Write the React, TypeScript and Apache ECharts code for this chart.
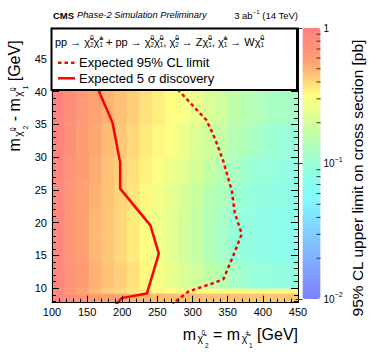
import React, { useEffect, useRef } from 'react';
import * as echarts from 'echarts';

const FONT = '"Liberation Sans", Arial, Helvetica, sans-serif';

// chi2/chi1 mass bins (GeV) and mass-splitting bands (GeV)
const massEdges = [99, 117, 135, 153, 171, 189, 207, 225, 243, 261, 279, 297, 315, 333, 351, 369, 387, 405, 423, 441, 459];
const dmEdges = [7.8, 9.25, 10, 14, 18, 22, 26, 30, 35, 50];

// 95% CL upper limit on cross section [pb], one array per mass-splitting band
const limitDm8 = [0.95, 0.8, 0.7, 0.62, 0.57, 0.53, 0.5, 0.49, 0.48, 0.47, 0.47, 0.47, 0.46, 0.46, 0.46, 0.46, 0.45, 0.45, 0.45, 0.45];
const limitDm9 = [0.85, 0.68, 0.56, 0.48, 0.43, 0.4, 0.37, 0.35, 0.33, 0.32, 0.31, 0.3, 0.3, 0.29, 0.29, 0.29, 0.28, 0.28, 0.28, 0.28];
const limitDm10 = [0.9, 0.72, 0.6, 0.51, 0.46, 0.42, 0.38, 0.33, 0.29, 0.25, 0.22, 0.19, 0.16, 0.14, 0.12, 0.105, 0.095, 0.09, 0.088, 0.09];
const limitDm14 = [0.88, 0.7, 0.57, 0.49, 0.44, 0.4, 0.36, 0.32, 0.27, 0.23, 0.2, 0.17, 0.14, 0.12, 0.1, 0.09, 0.083, 0.078, 0.076, 0.08];
const limitDm18 = [0.88, 0.7, 0.57, 0.49, 0.44, 0.4, 0.36, 0.31, 0.27, 0.23, 0.2, 0.17, 0.14, 0.12, 0.1, 0.09, 0.082, 0.077, 0.075, 0.078];
const limitDm22 = [0.88, 0.7, 0.58, 0.5, 0.45, 0.41, 0.37, 0.33, 0.28, 0.24, 0.21, 0.18, 0.15, 0.13, 0.11, 0.098, 0.09, 0.084, 0.08, 0.082];
const limitDm26 = [0.9, 0.72, 0.6, 0.52, 0.46, 0.42, 0.38, 0.34, 0.3, 0.26, 0.23, 0.2, 0.17, 0.145, 0.125, 0.11, 0.1, 0.092, 0.088, 0.088];
const limitDm30 = [0.92, 0.75, 0.62, 0.54, 0.48, 0.44, 0.4, 0.36, 0.33, 0.3, 0.26, 0.22, 0.19, 0.165, 0.145, 0.13, 0.115, 0.105, 0.1, 0.1];
const limitDm35 = [0.95, 0.78, 0.65, 0.56, 0.5, 0.46, 0.42, 0.38, 0.35, 0.32, 0.29, 0.25, 0.21, 0.19, 0.16, 0.145, 0.135, 0.12, 0.12, 0.12];
const limitBands = [limitDm8, limitDm9, limitDm10, limitDm14, limitDm18, limitDm22, limitDm26, limitDm30, limitDm35];

// contours [m(chi2) GeV, dm GeV]
const discovery5sigma = [[163, 41], [167, 40], [186, 35.3], [197, 29.2], [197, 25.2], [240, 19.6], [252, 15.3], [235, 9.2], [199, 8.5], [190, 7.4]];
const expected95 = [[272, 41], [280, 40.2], [320, 35.6], [332, 32.8], [344, 29.3], [356, 24.8], [360, 21.5], [370, 18.3], [358, 15], [344, 11.4], [330, 10.8], [313, 10.2], [294, 9.5], [276, 8], [272, 7.4]];

const colorbarMinor = [0.02, 0.03, 0.04, 0.05, 0.06, 0.07, 0.08, 0.09, 0.2, 0.3, 0.4, 0.5, 0.6, 0.7, 0.8, 0.9];
const palette = ['#8080ff', '#80a8ff', '#80d0ff', '#80fcff', '#98ffd8', '#c8ffa0', '#ffff80', '#ffa070', '#ff8080'];

const heatData: number[][] = [];
limitBands.forEach((band, bi) => {
  band.forEach((v, ci) => {
    heatData.push([massEdges[ci], massEdges[ci + 1], dmEdges[bi], dmEdges[bi + 1], Math.log10(v)]);
  });
});

const makeRich = (F: number, L: number, sub: number, sc: number, offC: number, offU: number, offD: number) => {
  const at = (fs: number, off: number, extra: any = {}) => {
    const c = L / 2 + off;
    const pt = Math.max(0, c - fs / 2);
    return { fontSize: fs, fontFamily: FONT, fill: '#000', color: '#000', verticalAlign: 'top', padding: [pt, 0, 0, 0], lineHeight: fs, ...extra };
  };
  return {
    m: { fontSize: F, fontFamily: FONT, fill: '#000', color: '#000', lineHeight: L, verticalAlign: 'middle' },
    c: at(sub, offC),
    g: { fontSize: 3, fontFamily: FONT, fill: '#000', color: '#000', lineHeight: 3, width: 2 },
    h: { fontSize: 3, fontFamily: FONT, fill: '#000', color: '#000', lineHeight: 3, width: 1.5 },
    u: at(sc, offU, { width: 0 }),
    d: at(sc, offD),
  };
};

const titleRich = makeRich(16, 30, 10.4, 6.4, 5.0, -1.8, 11.2);
const legRich = makeRich(11, 16, 11, 6.3, 0, -4, 3.6);

const CHI = 'χ̃';
const xTitle = `{m|m}{h| }{c|${CHI}}{g| }{u|0}{d|2}{m| = m}{h| }{c|${CHI}}{g| }{u|±}{d|1}{m| [GeV]}`;
const yTitle = `{m|m}{h| }{c|${CHI}}{g| }{u|0}{d|2}{m| - m}{h| }{c|${CHI}}{g| }{u|0}{d|1}{m| [GeV]}`;
const procText =
  `{m|pp → ${CHI}}{u|0}{d|2}{m|${CHI}}{u|±}{d|1}{m| + pp → ${CHI}}{u|0}{d|2}{m|${CHI}}{u|0}{d|1}` +
  `{m|, ${CHI}}{u|0}{d|2}{m| → Z${CHI}}{u|0}{d|1}{m|, ${CHI}}{u|±}{d|1}{m| → W${CHI}}{u|0}{d|1}`;

export default function App() {
  const ref = useRef<HTMLDivElement>(null);
  useEffect(() => {
    if (!ref.current) return;
    const chart = echarts.init(ref.current, undefined, { renderer: 'svg' });
    const axisCommon = {
      axisLine: { show: true, onZero: false, lineStyle: { color: '#000', width: 1 } },
      axisTick: { show: true, inside: true, length: 7, lineStyle: { color: '#000', width: 1 } },
      minorTick: { show: true, splitNumber: 5, length: 4, lineStyle: { color: '#000', width: 1 } },
      splitLine: { show: false },
      z: 5,
    };
    const option: any = {
      animation: false,
      backgroundColor: '#ffffff',
      grid: [
        { left: 52, top: 28, width: 246, height: 274.7 },
        { left: 302.5, top: 28, width: 18, height: 271 },
      ],
      xAxis: [
        {
          gridIndex: 0, type: 'value', min: 100, max: 450, interval: 50, ...axisCommon,
          axisLabel: { fontSize: 11, color: '#000', fontFamily: FONT, margin: 4 },
        },
        { gridIndex: 1, type: 'value', min: 0, max: 1, show: false },
      ],
      yAxis: [
        {
          gridIndex: 0, type: 'value', min: 7.8, max: 49.7, splitNumber: 9, ...axisCommon,
          axisLabel: { fontSize: 11, color: '#000', fontFamily: FONT, margin: 5, showMinLabel: false, showMaxLabel: false },
        },
        {
          gridIndex: 0, type: 'value', min: 7.8, max: 49.7, splitNumber: 9, position: 'right', ...axisCommon,
          axisLabel: { show: false },
        },
        {
          gridIndex: 1, type: 'log', logBase: 10, min: 0.01, max: 1, position: 'right', z: 10,
          axisLine: { show: false },
          axisTick: { show: true, inside: true, length: 7, lineStyle: { color: '#333', width: 1 } },
          splitLine: { show: false },
          axisLabel: {
            fontSize: 10, color: '#000', fontFamily: FONT, margin: 3, lineHeight: 16,
            formatter: (v: number) => {
              const e = Math.round(Math.log10(v));
              return e === 0 ? '1' : `10{s|−${-e}}`;
            },
            rich: { s: { fontSize: 7, color: '#000', fontFamily: FONT, verticalAlign: 'top', padding: [0, 0, 0, 0], lineHeight: 7 } },
          },
        },
      ],
      visualMap: {
        type: 'continuous', seriesIndex: 0, dimension: 4, min: -2, max: 0,
        left: 302.5, top: 28, itemWidth: 18, itemHeight: 271, padding: 0,
        calculable: false, hoverLink: false, z: 1,
        inRange: { color: palette },
      },
      series: [
        {
          type: 'custom', xAxisIndex: 0, yAxisIndex: 0, z: 1,
          data: heatData,
          encode: { x: [0, 1], y: [2, 3] },
          renderItem: (params: any, api: any) => {
            const p0 = api.coord([api.value(0), api.value(3)]);
            const p1 = api.coord([api.value(1), api.value(2)]);
            const cs = params.coordSys;
            const shape = echarts.graphic.clipRectByRect(
              { x: p0[0], y: p0[1], width: p1[0] - p0[0], height: p1[1] - p0[1] },
              { x: cs.x, y: cs.y, width: cs.width, height: cs.height }
            );
            if (!shape) return null;
            const col = api.visual('color');
            return { type: 'rect', shape, style: { fill: col, stroke: col, lineWidth: 0.5 } };
          },
        },
        {
          type: 'line', xAxisIndex: 0, yAxisIndex: 0, z: 3, data: discovery5sigma, symbol: 'none',
          lineStyle: { color: '#ff0000', width: 2.5 },
        },
        {
          type: 'line', xAxisIndex: 0, yAxisIndex: 0, z: 3, data: expected95, symbol: 'none',
          lineStyle: { color: '#ff0000', width: 2.5, type: [3.5, 3] },
        },
        {
          type: 'custom', xAxisIndex: 1, yAxisIndex: 2, z: 10,
          data: colorbarMinor.map((v) => [1, v]),
          encode: { x: 0, y: 1 },
          renderItem: (params: any, api: any) => {
            const p = api.coord([api.value(0), api.value(1)]);
            return { type: 'line', shape: { x1: p[0] - 4, y1: p[1], x2: p[0], y2: p[1] }, style: { stroke: '#333', lineWidth: 1 } };
          },
        },
      ],
      graphic: [
        { type: 'rect', z: 20, shape: { x: 51.5, y: 28.5, width: 245.5, height: 61.5 }, style: { fill: '#fff', stroke: '#000', lineWidth: 2 } },
        { type: 'text', z: 21, x: 55, y: 41.5, style: { text: procText, rich: legRich, fontFamily: FONT, fontSize: 11, fill: '#000', align: 'left', verticalAlign: 'middle' } },
        { type: 'line', z: 21, shape: { x1: 58, y1: 62.7, x2: 75, y2: 62.7 }, style: { stroke: '#ff0000', lineWidth: 2.5, lineDash: [3.5, 3] } },
        { type: 'text', z: 21, x: 79, y: 62.7, style: { text: 'Expected 95% CL limit', fontFamily: FONT, fontSize: 13, fill: '#000', align: 'left', verticalAlign: 'middle' } },
        { type: 'line', z: 21, shape: { x1: 58, y1: 78.3, x2: 75, y2: 78.3 }, style: { stroke: '#ff0000', lineWidth: 2.5 } },
        { type: 'text', z: 21, x: 79, y: 78.3, style: { text: 'Expected 5 σ discovery', fontFamily: FONT, fontSize: 13, fill: '#000', align: 'left', verticalAlign: 'middle' } },
        { type: 'text', z: 21, x: 53, y: 15, style: { text: 'CMS', fontFamily: FONT, fontSize: 9.5, fontWeight: 'bold', fill: '#000', align: 'left', verticalAlign: 'middle' } },
        { type: 'text', z: 21, x: 77, y: 15, style: { text: 'Phase-2 Simulation Preliminary', fontFamily: FONT, fontSize: 9.3, fontStyle: 'italic', fill: '#000', align: 'left', verticalAlign: 'middle' } },
        {
          type: 'text', z: 21, x: 298, y: 15,
          style: {
            text: '{m|3 ab}{s|−1}{m| (14 TeV)}', fontFamily: FONT, fontSize: 9.5, fill: '#000', align: 'right', verticalAlign: 'middle',
            rich: {
              m: { fontSize: 9.5, fontFamily: FONT, fill: '#000', lineHeight: 12 },
              s: { fontSize: 6, fontFamily: FONT, fill: '#000', verticalAlign: 'top', lineHeight: 6, padding: [0, 0, 0, 0] },
            },
          },
        },
        { type: 'text', z: 21, x: 298, y: 334, style: { text: xTitle, rich: titleRich, fontFamily: FONT, fontSize: 16, fill: '#000', align: 'right', verticalAlign: 'middle' } },
        { type: 'text', z: 21, x: 14, y: 96, rotation: Math.PI / 2, style: { text: yTitle, rich: titleRich, fontFamily: FONT, fontSize: 16, fill: '#000', align: 'center', verticalAlign: 'middle' } },
        { type: 'text', z: 21, x: 357, y: 178, rotation: Math.PI / 2, style: { text: '95% CL upper limit on cross section [pb]', fontFamily: FONT, fontSize: 15.5, fill: '#000', align: 'center', verticalAlign: 'middle' } },
      ],
    };
    chart.setOption(option);
    return () => chart.dispose();
  }, []);
  return <div ref={ref} style={{ position: 'fixed', left: 0, top: 0, width: 369, height: 354, background: '#fff' }} />;
}
